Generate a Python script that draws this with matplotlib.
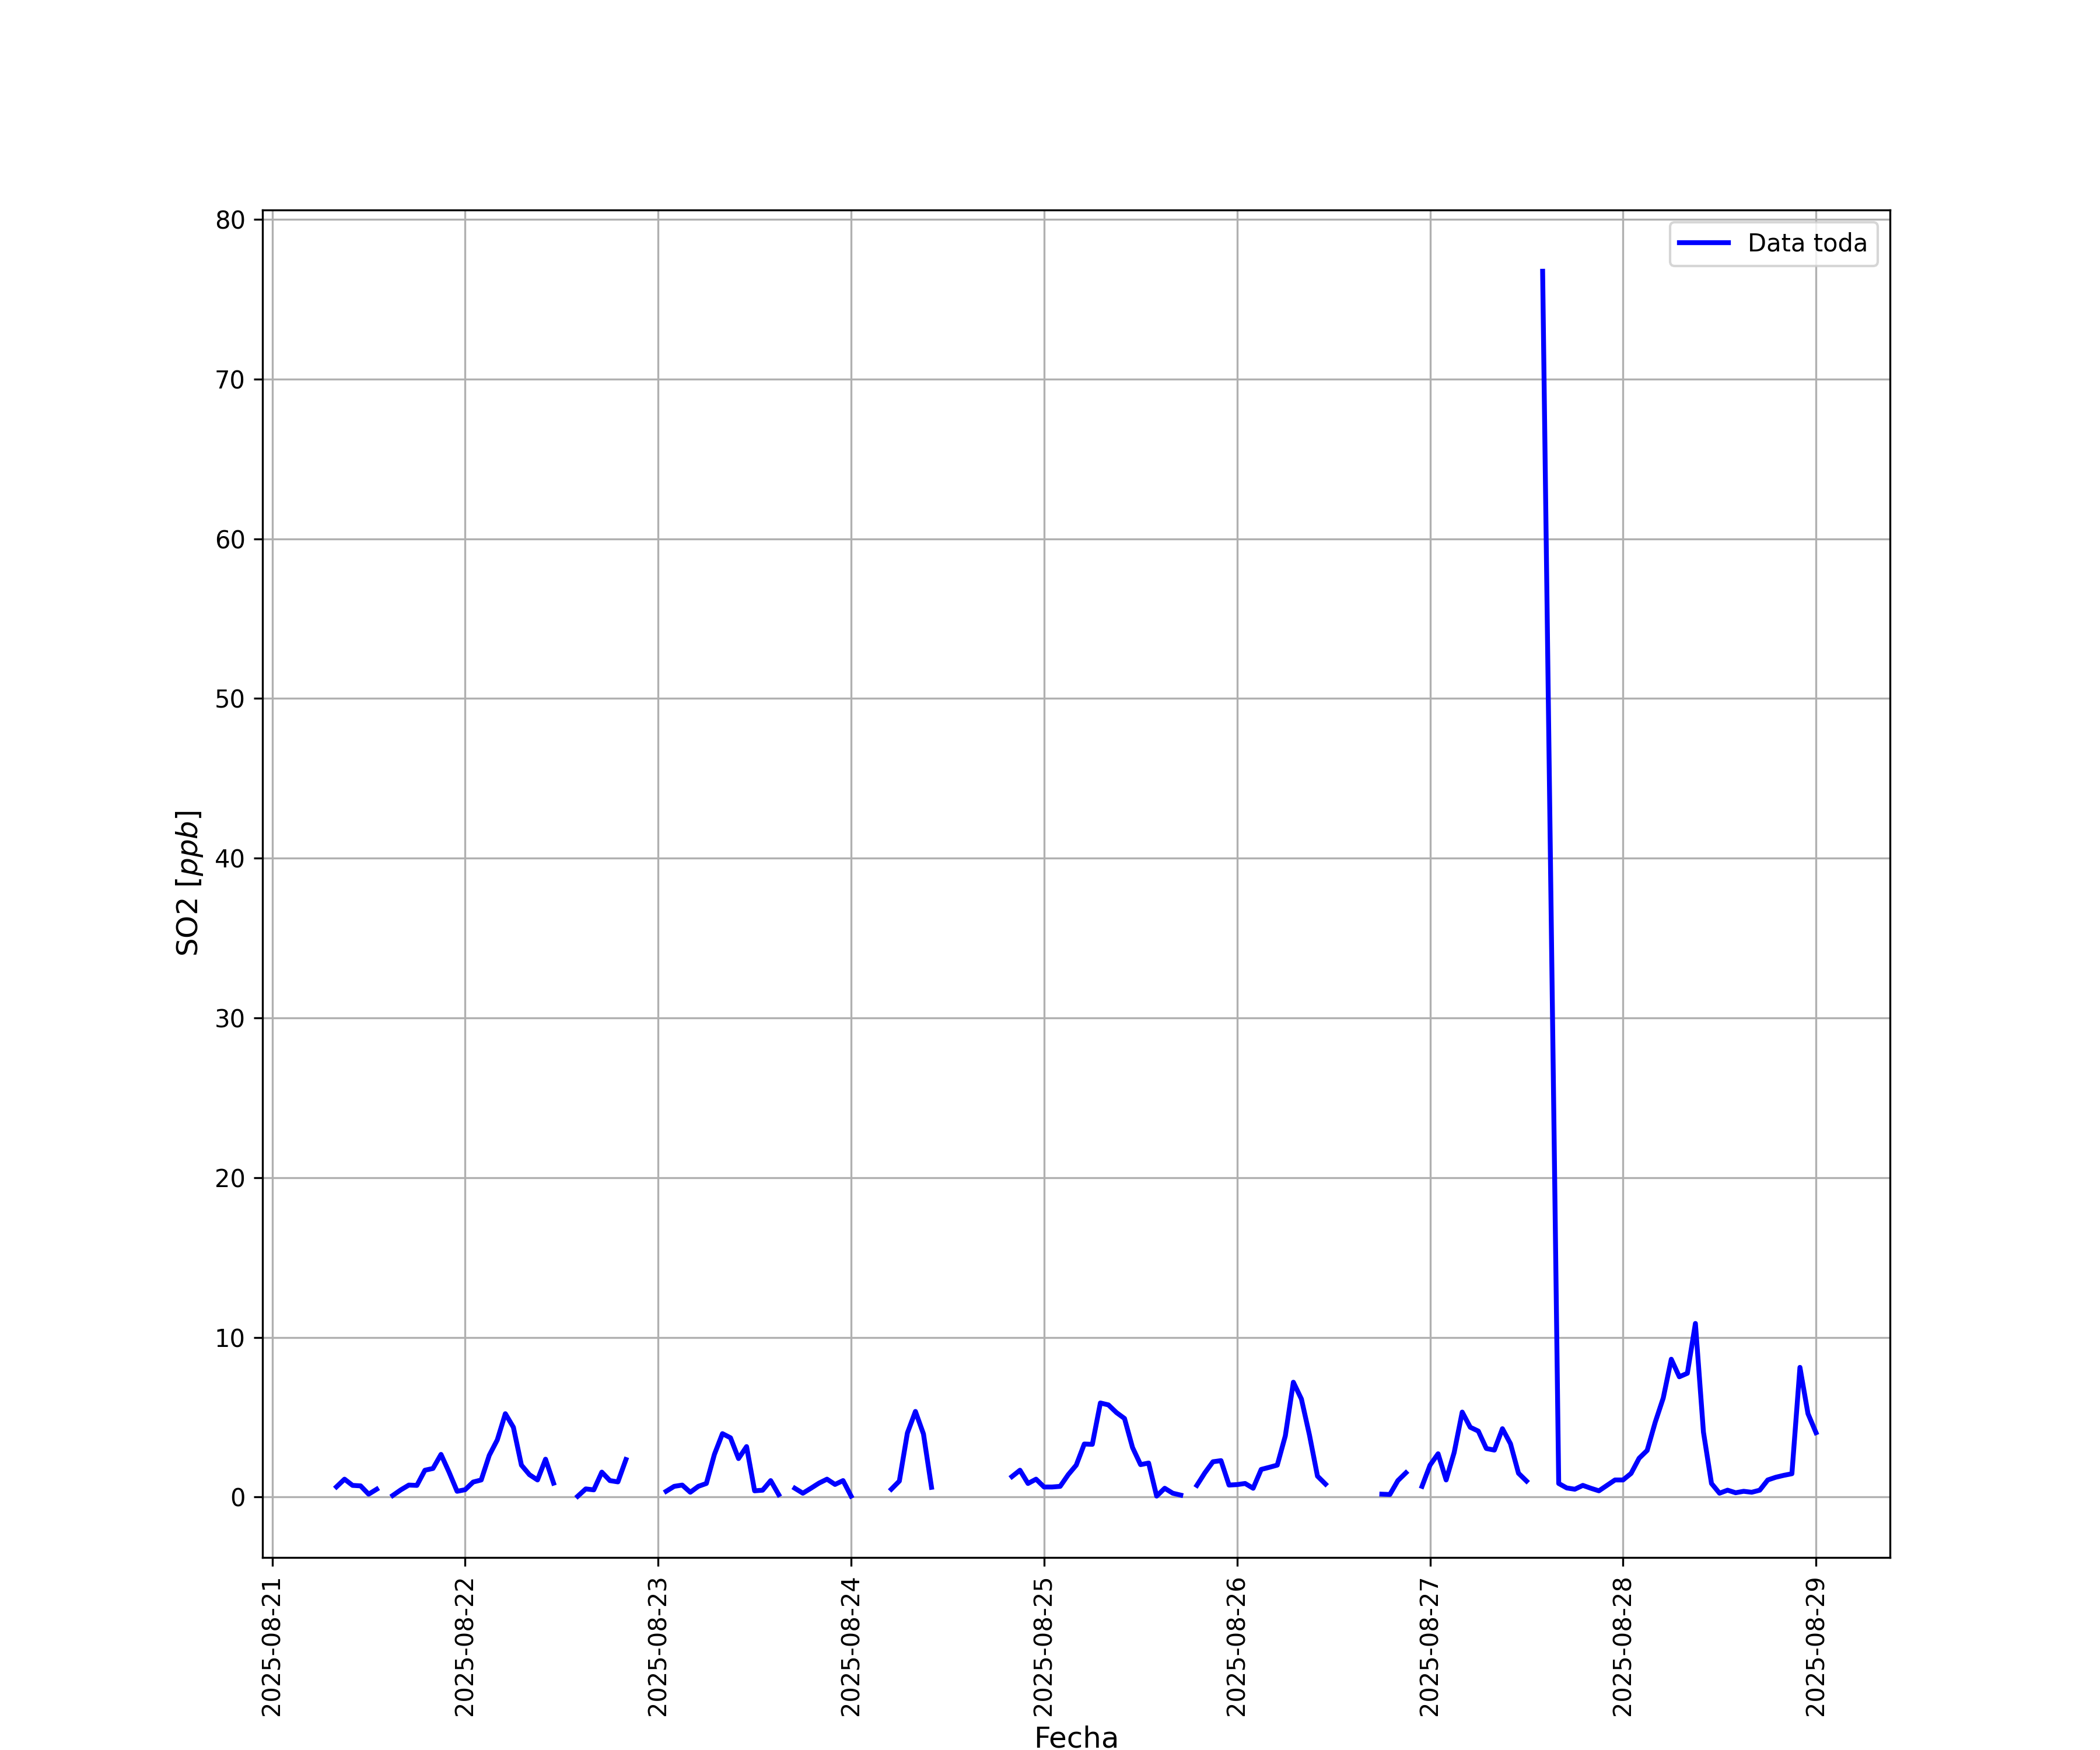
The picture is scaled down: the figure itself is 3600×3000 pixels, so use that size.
import matplotlib
matplotlib.use('Agg')
import matplotlib.pyplot as plt
import numpy as np
import pandas as pd

nan = np.nan

# SO2 hourly values [ppb], one list per day (hour 0..23), NaN = no data
so2_0821 = [0.64, 1.12, 0.73, 0.70, 0.18, 0.49, nan,
            0.10, 0.45, 0.75, 0.73, 1.68, 1.79, 2.67, 1.56, 0.36]   # from 08:00
so2_0822 = [0.46, 0.94, 1.07, 2.61, 3.58, 5.22, 4.37, 2.00, 1.40, 1.07, 2.37, 0.87,
            nan, nan, 0.05, 0.51, 0.45, 1.56, 1.03, 0.95, 2.35, nan, nan, nan]
so2_0823 = [nan, 0.36, 0.67, 0.75, 0.30, 0.67, 0.85, 2.67, 3.97, 3.71, 2.41, 3.16,
            0.39, 0.43, 1.03, 0.15, nan, 0.55, 0.24, 0.55, 0.87, 1.12, 0.79, 1.03]
so2_0824 = [0.06, nan, nan, nan, nan, 0.49, 1.00, 4.01, 5.36, 3.95, 0.61, nan,
            nan, nan, nan, nan, nan, nan, nan, nan, 1.28, 1.68, 0.85, 1.12]
so2_0825 = [0.63, 0.63, 0.67, 1.40, 2.00, 3.32, 3.30, 5.89, 5.77, 5.29, 4.92, 3.10,
            2.03, 2.13, 0.06, 0.55, 0.24, 0.12, nan, 0.73, 1.52, 2.21, 2.28, 0.75]
so2_0826 = [0.78, 0.85, 0.55, 1.73, 1.86, 2.00, 3.83, 7.19, 6.14, 3.89, 1.31, 0.81,
            nan, nan, nan, nan, nan, nan, 0.18, 0.16, 1.03, 1.52, nan, 0.67]
so2_0827 = [2.00, 2.71, 1.07, 2.79, 5.32, 4.37, 4.13, 3.04, 2.94, 4.28, 3.34, 1.49,
            1.00, nan, 76.75, nan, 0.85, 0.57, 0.49, 0.73, 0.55, 0.39, 0.73, 1.07]
so2_0828 = [1.07, 1.48, 2.43, 2.92, 4.68, 6.20, 8.63, 7.53, 7.75, 10.87, 4.07, 0.85,
            0.24, 0.43, 0.27, 0.36, 0.30, 0.43, 1.07, 1.24, 1.36, 1.46, 8.12, 5.22]
so2_0829 = [4.03]

# hour with no record at all (not a NaN row, the line goes straight through)
sin_registro = ['2025-08-27 15:00']

valores = (so2_0821 + so2_0822 + so2_0823 + so2_0824 + so2_0825 +
           so2_0826 + so2_0827 + so2_0828 + so2_0829)
fechas = pd.date_range('2025-08-21 08:00', '2025-08-29 00:00', freq='h')
df = pd.DataFrame({'so2': valores}, index=fechas)
df = df.drop(pd.to_datetime(sin_registro))

fig = plt.figure(figsize=(12, 10), dpi=300)
ax = fig.add_subplot(111)
ax.plot(df.index, df['so2'], color='b', linewidth=2, label='Data toda')

ax.set_xlabel('Fecha', fontsize=12)
ax.set_ylabel('SO2 [$ppb$]', fontsize=12)
ax.grid(True)
ax.legend(loc='upper right')
plt.xticks(rotation=90)

fig.savefig('out.png', dpi=300)
